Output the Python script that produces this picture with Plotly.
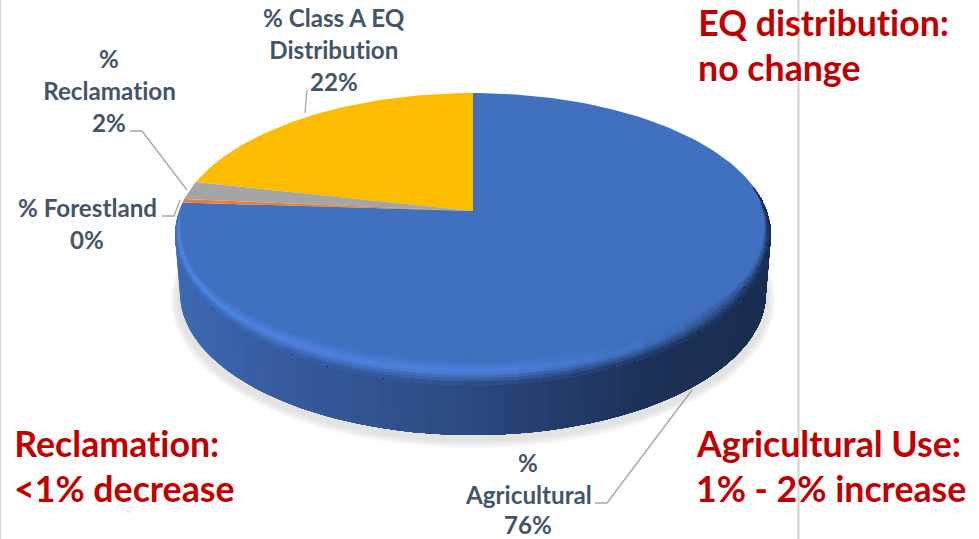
import math
import plotly.graph_objects as go

# ---- data ----
categories = ["% Agricultural", "% Forestland", "% Reclamation", "% Class A EQ Distribution"]
values = [76.0, 0.4, 2.1, 21.5]
slice_colors = ["#4170BF", "#ED7D31", "#A5A5A5", "#FCBC00"]
callouts = ["EQ distribution:\nno change", "Reclamation:\n<1% decrease", "Agricultural Use:\n1% - 2% increase"]

# ---- geometry of the tilted disc (pixel space) ----
W, H = 979, 539
APEX_X, APEX_Y = 473, 211
DISC_C = 294
PERSP_K = 0.163
PERSP_A = -102.8


def hexrgb(c):
    return tuple(int(c[i:i + 2], 16) for i in (1, 3, 5))


def mix(c1, c2, t):
    a, b = hexrgb(c1), hexrgb(c2)
    return "#%02x%02x%02x" % tuple(round(a[i] + (b[i] - a[i]) * t) for i in range(3))


def ramp(stops, x):
    if x <= stops[0][0]:
        return stops[0][1]
    for (x0, c0), (x1, c1) in zip(stops, stops[1:]):
        if x <= x1:
            return mix(c0, c1, (x - x0) / (x1 - x0))
    return stops[-1][1]


def disc_point(theta):
    u, v = math.sin(theta), math.cos(theta)
    d = 1 + PERSP_K * v
    return APEX_X + DISC_C * u / d, (APEX_Y + PERSP_A * v) / d


def lerp(a, b, t):
    return a + (b - a) * t


LEFT_EXT = math.radians(13)
RIGHT_EXT = math.radians(20)


def rim_point(phi, t):
    if phi < 0 or phi > math.pi:
        over = (-phi / RIGHT_EXT) if phi < 0 else ((phi - math.pi) / LEFT_EXT)
        rx = lerp(298 - 7 * (1 - over), 298, t)
        return APEX_X + rx * math.cos(phi), 235 + 141 * math.sin(phi)
    rx = lerp(291, 298, t)
    cy = lerp(232, 235, t)
    bottom = lerp(360, 385, t)
    return APEX_X + rx * math.cos(phi), cy + (bottom - cy) * math.sin(phi)


def wall_bottom(phi):
    return APEX_X + 293 * math.cos(phi), 293 + 142 * math.sin(phi)


def poly(xs, ys, color):
    return go.Scatter(x=xs, y=ys, mode="lines", fill="toself", fillcolor=color,
                      line=dict(color=color, width=0), hoverinfo="skip", showlegend=False)


fig = go.Figure()

# frame lines
for x, col, wid in [(0.5, "#DDDDDD", 2), (798.5, "#D2D2D2", 2)]:
    fig.add_trace(go.Scatter(x=[x, x], y=[0, H], mode="lines", line=dict(color=col, width=wid),
                             hoverinfo="skip", showlegend=False))

# soft shadow
for grow, col in [(6, "#F6F6F6"), (4, "#EFEFEF"), (2, "#E8E8E8"), (0, "#E3E3E3")]:
    xs, ys = [], []
    for i in range(181):
        a = 2 * math.pi * i / 180
        xs.append(APEX_X + (296 + grow) * math.cos(a))
        ys.append(300 + (142 + grow) * math.sin(a))
    fig.add_trace(poly(xs, ys, col))

# side wall: painted left to right, each piece covering everything to its right (no seams)
WALL_STOPS = [(175, "#3D68B3"), (300, "#35599A"), (450, "#2C4C83"), (550, "#243E6C"),
              (650, "#1C3158"), (771, "#1A2C4F")]
N_WALL = 60
arc = [math.pi * (1 - i / N_WALL) for i in range(N_WALL + 1)]
for i in range(N_WALL):
    tail = arc[i:]
    top = [rim_point(p, 1) for p in tail]
    bot = [wall_bottom(p) for p in reversed(tail)]
    xs = [q[0] for q in top + bot] + [top[0][0]]
    ys = [q[1] for q in top + bot] + [top[0][1]]
    fig.add_trace(poly(xs, ys, ramp(WALL_STOPS, (top[0][0] + top[1][0]) / 2)))

# slices of the top face, computed from the values
total = sum(values)
start = 0.0
for val, col in zip(values, slice_colors):
    end = start + val / total * 2 * math.pi
    n = max(3, int(val * 3))
    pts = [disc_point(start + (end - start) * k / n) for k in range(n + 1)]
    xs = [APEX_X] + [p[0] for p in pts] + [APEX_X]
    ys = [APEX_Y] + [p[1] for p in pts] + [APEX_Y]
    fig.add_trace(poly(xs, ys, col))
    start = end

# bevel along the rim: inner layers first, each layer painted left to right
BASE = slice_colors[0]
HILITE = [(175, "#4F86E4"), (500, "#4C80DA"), (640, "#4272C0"), (700, "#33588F"), (771, "#1F3560")]
N_RIM, N_LAYER = 40, 8
span = math.pi + LEFT_EXT + RIGHT_EXT
rim_arc = [math.pi + LEFT_EXT - span * i / N_RIM for i in range(N_RIM + 1)]
for L in range(N_LAYER):
    t0 = L / N_LAYER
    tm = (L + 0.5) / N_LAYER
    for i in range(N_RIM):
        tail = rim_arc[i:]
        inner = [rim_point(p, t0) for p in tail]
        outer = [rim_point(p, 1) for p in reversed(tail)]
        xm = (inner[0][0] + inner[1][0]) / 2
        hi = ramp(HILITE, xm)
        if tm < 0.5:
            col = mix(BASE, hi, tm / 0.5)
        else:
            col = mix(hi, ramp(WALL_STOPS, xm), (tm - 0.5) / 0.5)
        xs = [q[0] for q in inner + outer] + [inner[0][0]]
        ys = [q[1] for q in inner + outer] + [inner[0][1]]
        fig.add_trace(poly(xs, ys, col))

# leader lines
leaders = [
    ([307, 305], [90, 113]),
    ([130, 142, 187], [131, 131, 190]),
    ([162, 174, 180], [216, 216, 200]),
    ([595, 607, 692], [503, 503, 390]),
]
for xs, ys in leaders:
    fig.add_trace(go.Scatter(x=xs, y=ys, mode="lines", line=dict(color="#A6A6A6", width=1.3),
                             hoverinfo="skip", showlegend=False))

# data labels (category + rounded value from the data)
LABEL_FONT = dict(family="Lato", size=24.2, color="#44546A")
label_pos = {
    "% Class A EQ Distribution": (334, [17, 49, 81], ["% Class A EQ", "Distribution"]),
    "% Reclamation": (109, [58, 90, 122], ["%", "Reclamation"]),
    "% Forestland": (87, [207, 239], ["% Forestland"]),
    "% Agricultural": (528, [462, 494, 524], ["%", "Agricultural"]),
}
ann = []
for cat, val in zip(categories, values):
    cx, ys, lines = label_pos[cat]
    for y, s in zip(ys, lines + [f"{round(val)}%"]):
        ann.append(dict(x=cx, y=y, text="<b>%s</b>" % s, showarrow=False, xanchor="center", yanchor="middle",
                        font=LABEL_FONT))

# red call-outs
call_pos = [(696, [22, 67]), (12, [443, 488]), (694, [443, 488])]
for text, (x, ys) in zip(callouts, call_pos):
    for y, s in zip(ys, text.split("\n")):
        ann.append(dict(x=x, y=y, text="<b>%s</b>" % s.replace("<", "&lt;"), showarrow=False, xanchor="left",
                        yanchor="middle", font=dict(family="Lato", size=35.7, color="#C00000")))

fig.update_layout(
    width=W, height=H, margin=dict(l=0, r=0, t=0, b=0), autosize=False,
    paper_bgcolor="white", plot_bgcolor="white", showlegend=False, annotations=ann,
    xaxis=dict(range=[0, W], visible=False, fixedrange=True),
    yaxis=dict(range=[H, 0], visible=False, fixedrange=True),
)
fig.write_html("out.html", config={"displayModeBar": False},
               post_script="document.body.style.margin='0';document.body.style.overflow='hidden';"
                           "var s=document.createElement('style');"
                           "s.textContent='text{font-variant-ligatures:none;font-feature-settings:\"liga\" 0}';"
                           "document.head.appendChild(s);")
